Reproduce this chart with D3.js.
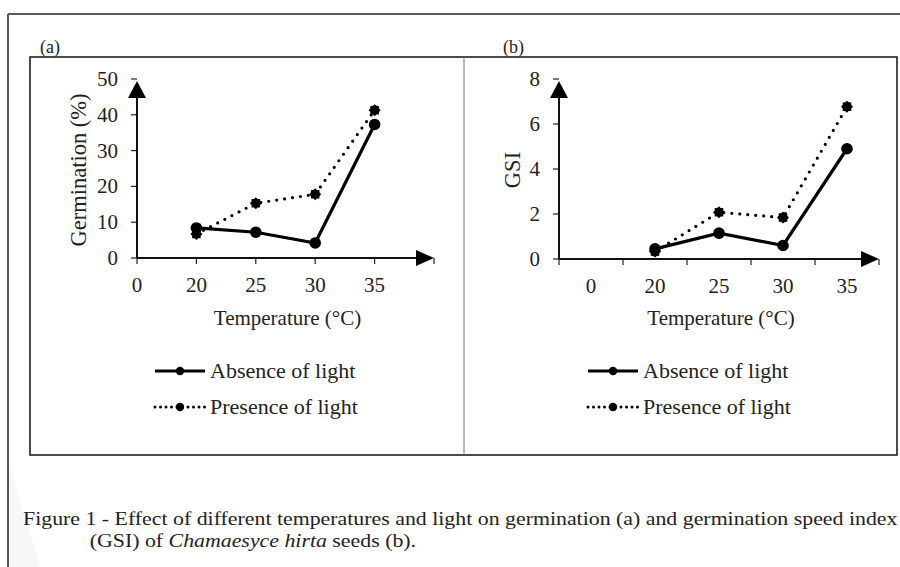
<!DOCTYPE html>
<html>
<head>
<meta charset="utf-8">
<script src="https://cdn.jsdelivr.net/npm/d3@7"></script>
<style>
  body { margin: 0; background: #fff; }
  text { font-family: "Liberation Serif", "Times New Roman", serif; fill: #222; }
</style>
</head>
<body>
<div id="graph"></div>
<script>
// temperatures on the x axis (0 is only a label at the origin)
var temps = ["0", "20", "25", "30", "35"];
var dataTemps = ["20", "25", "30", "35"];

// (a) germination, %
var germAbsence  = [8.4, 7.2, 4.2, 37.3];
var germPresence = [6.7, 15.3, 17.8, 41.3];
var germTicks = [0, 10, 20, 30, 40, 50];

// (b) germination speed index
var gsiAbsence  = [0.45, 1.15, 0.6, 4.9];
var gsiPresence = [0.33, 2.08, 1.84, 6.77];
var gsiTicks = [0, 2, 4, 6, 8];

var seriesNames = ["Absence of light", "Presence of light"];

var w = 900, h = 567;
var vis = d3.select("#graph").append("svg").attr("width", w).attr("height", h);

// faint shadow bottom left
vis.append("path").attr("d", "M9,465L40,567L9,567Z").attr("fill", "#f7f7f7");

// frames
vis.append("line").attr("x1", 8).attr("y1", 14).attr("x2", 900).attr("y2", 14)
   .attr("stroke", "#222").attr("stroke-width", 1.5);
vis.append("line").attr("x1", 8).attr("y1", 14).attr("x2", 8).attr("y2", 567)
   .attr("stroke", "#555").attr("stroke-width", 2);
vis.append("rect").attr("x", 30).attr("y", 57).attr("width", 867).attr("height", 398)
   .attr("fill", "none").attr("stroke", "#111").attr("stroke-width", 1.5);
vis.append("line").attr("x1", 464).attr("y1", 57).attr("x2", 464).attr("y2", 455)
   .attr("stroke", "#777").attr("stroke-width", 1);

// panel letters
vis.append("text").attr("x", 40).attr("y", 53).style("font-size", "18px").text("(a)");
vis.append("text").attr("x", 503).attr("y", 53).style("font-size", "18px").text("(b)");

function starPath(r) {
  var pts = [];
  for (var i = 0; i < 16; i++) {
    var a = i * Math.PI / 8;
    var rr = i % 2 ? r * 0.78 : r;
    pts.push([Math.sin(a) * rr, -Math.cos(a) * rr]);
  }
  return "M" + pts.join("L") + "Z";
}

function panel(opt) {
  var g = vis.append("g");
  var x = d3.scaleBand().domain(temps).range([opt.x0, opt.x1]);
  var y = d3.scaleLinear().domain([0, opt.ymax]).range([opt.y0, 79]);
  var xp = function(t) { return x(t) + (opt.centered ? x.bandwidth() / 2 : 0); };

  // y ticks and labels
  g.selectAll(".yt").data(opt.ticks).enter().append("line")
    .attr("x1", opt.x0 - 6).attr("x2", opt.x0)
    .attr("y1", d => y(d)).attr("y2", d => y(d))
    .attr("stroke", "#222").attr("stroke-width", 1.2);
  g.selectAll(".yl").data(opt.ticks).enter().append("text")
    .attr("x", opt.x0 - 19).attr("y", d => y(d) + 7)
    .attr("text-anchor", "end").style("font-size", "21px").text(d => d);

  // x ticks at band edges
  var edges = temps.map(t => x(t)).concat([opt.x1]);
  g.selectAll(".xt").data(edges).enter().append("line")
    .attr("x1", d => d).attr("x2", d => d)
    .attr("y1", opt.y0).attr("y2", opt.y0 + 6)
    .attr("stroke", "#222").attr("stroke-width", 1.2);
  g.selectAll(".xl").data(temps).enter().append("text")
    .attr("x", d => xp(d)).attr("y", opt.y0 + 34)
    .attr("text-anchor", "middle").style("font-size", "21px").text(d => d);

  // axes with arrows
  g.append("line").attr("x1", opt.x0).attr("x2", opt.x0).attr("y1", opt.y0).attr("y2", 96)
    .attr("stroke", "#111").attr("stroke-width", 2);
  g.append("line").attr("x1", opt.x0).attr("x2", opt.x1 - 16).attr("y1", opt.y0).attr("y2", opt.y0)
    .attr("stroke", "#111").attr("stroke-width", 2);
  g.append("path").attr("d", "M" + opt.x0 + ",81L" + (opt.x0 + 9) + ",98L" + (opt.x0 - 9) + ",98Z")
    .attr("fill", "#000");
  g.append("path").attr("d", "M" + opt.x1 + "," + opt.y0 + "L" + (opt.x1 - 18) + "," + (opt.y0 - 8) +
    "L" + (opt.x1 - 18) + "," + (opt.y0 + 8) + "Z").attr("fill", "#000");

  // titles
  g.append("text").attr("transform", "translate(" + opt.ytx + ",170) rotate(-90)")
    .attr("text-anchor", "middle").style("font-size", "22.5px").text(opt.ytitle);
  g.append("text").attr("x", (opt.x0 + opt.x1) / 2 + 2).attr("y", 325)
    .attr("text-anchor", "middle").style("font-size", "21px").text("Temperature (\u00B0C)");

  var line = d3.line().x((d, i) => xp(dataTemps[i])).y(d => y(d));

  g.append("path").datum(opt.presence).attr("d", line)
    .attr("fill", "none").attr("stroke", "#000").attr("stroke-width", 3.2)
    .attr("stroke-dasharray", "0,8").attr("stroke-linecap", "round");
  g.append("path").datum(opt.absence).attr("d", line)
    .attr("fill", "none").attr("stroke", "#000").attr("stroke-width", 3.2);

  g.selectAll(".pm").data(opt.presence).enter().append("path")
    .attr("d", starPath(6))
    .attr("transform", (d, i) => "translate(" + xp(dataTemps[i]) + "," + y(d) + ")")
    .attr("fill", "#000");
  g.selectAll(".am").data(opt.absence).enter().append("circle")
    .attr("cx", (d, i) => xp(dataTemps[i])).attr("cy", d => y(d)).attr("r", 5.8)
    .attr("fill", "#000");

  // legend
  var lx = opt.legX;
  seriesNames.forEach(function(name, i) {
    var ly = 371 + i * 36;
    g.append("line").attr("x1", lx).attr("x2", lx + 50).attr("y1", ly).attr("y2", ly)
      .attr("stroke", "#000").attr("stroke-width", 3)
      .attr("stroke-dasharray", i ? "0,5.5" : null).attr("stroke-linecap", i ? "round" : "butt");
    g.append("circle").attr("cx", lx + 25).attr("cy", ly).attr("r", 4.2).attr("fill", "#000");
    g.append("text").attr("x", lx + 55).attr("y", ly + 7).style("font-size", "22px").text(name);
  });
}

panel({ x0: 137, x1: 434, y0: 258, ymax: 50, ticks: germTicks, centered: false,
        absence: germAbsence, presence: germPresence, ytitle: "Germination (%)", ytx: 86, legX: 155 });
panel({ x0: 559, x1: 879, y0: 259, ymax: 8, ticks: gsiTicks, centered: true,
        absence: gsiAbsence, presence: gsiPresence, ytitle: "GSI", ytx: 520, legX: 588 });

// caption (the source picture is a little stretched sideways)
var cap = vis.append("g").attr("transform", "translate(23,525) scale(1.15,1)");
cap.append("text").attr("x", 0).attr("y", 0).style("font-size", "19px")
   .text("Figure 1 - Effect of different temperatures and light on germination (a) and germination speed index");
var cap2 = cap.append("text").attr("x", 58).attr("y", 22).style("font-size", "19px");
cap2.append("tspan").text("(GSI) of ");
cap2.append("tspan").style("font-style", "italic").text("Chamaesyce hirta");
cap2.append("tspan").text(" seeds (b).");
</script>
</body>
</html>
